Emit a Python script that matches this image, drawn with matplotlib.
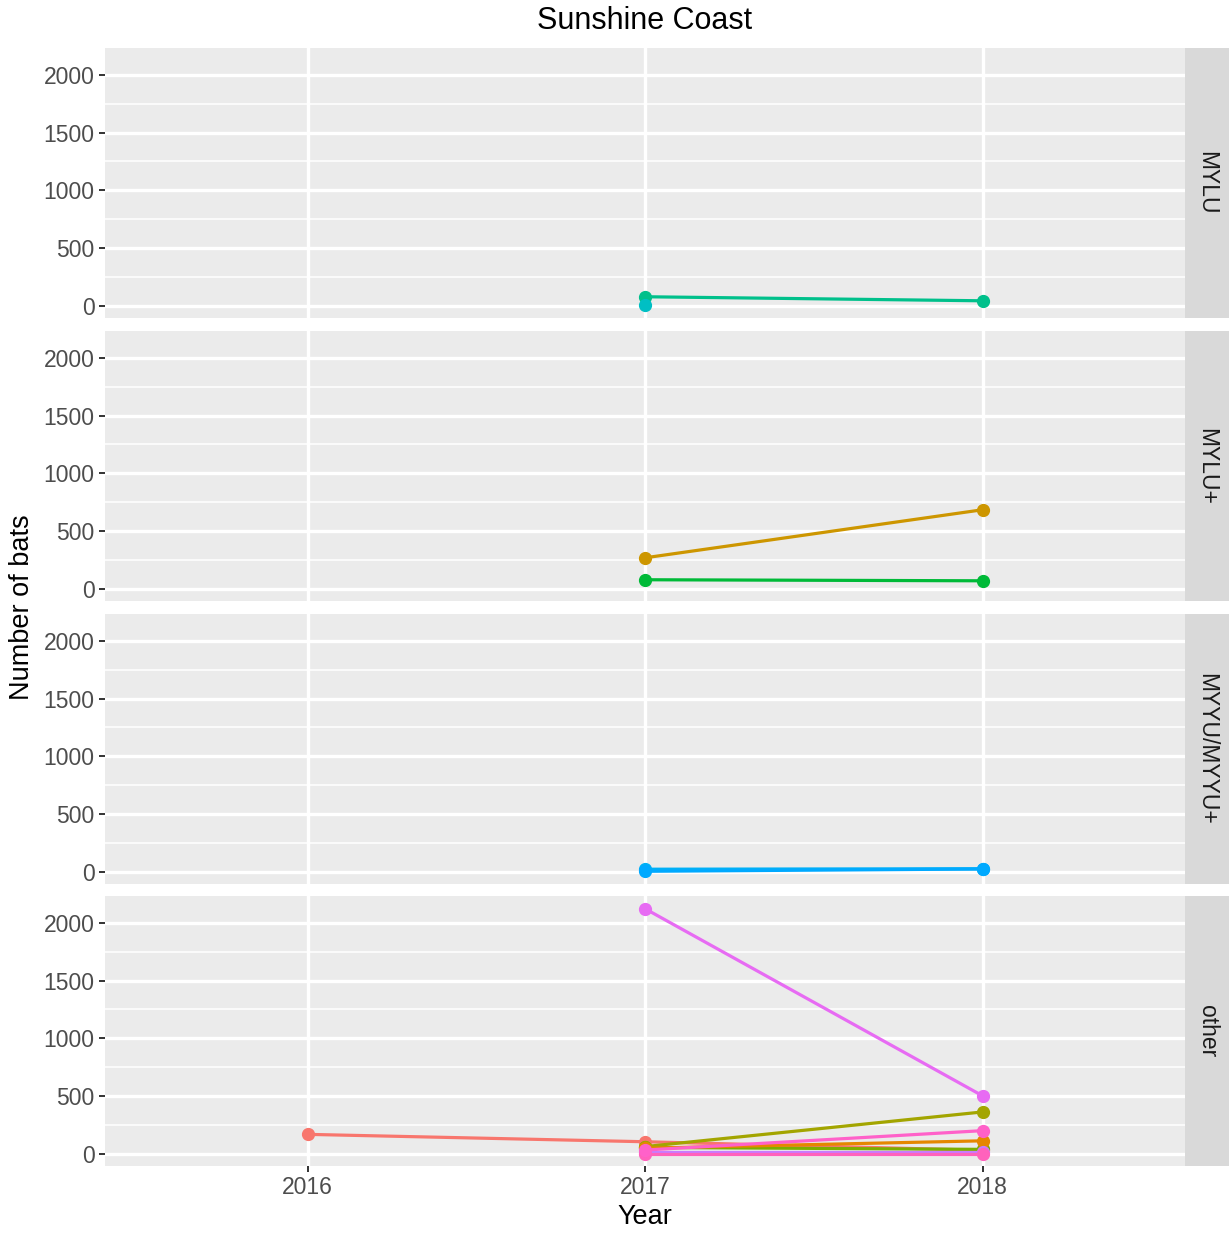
import matplotlib.pyplot as plt
from matplotlib.ticker import MultipleLocator

plt.rcParams["font.family"] = ["Liberation Sans", "DejaVu Sans"]

# panels of the facet grid, top to bottom
panels = ["MYLU", "MYLU+", "MYYU/MYYU+", "other"]

# series: (panel, colour, years, counts)
mylu_a_years = [2017, 2018]
mylu_a_counts = [78, 43]
mylu_b_years = [2017]
mylu_b_counts = [5]

mylup_a_years = [2017, 2018]
mylup_a_counts = [268, 684]
mylup_b_years = [2017, 2018]
mylup_b_counts = [78, 69]

myyu_a_years = [2017, 2018]
myyu_a_counts = [22, 26]
myyu_b_years = [2017, 2018]
myyu_b_counts = [4, 24]

other_salmon_years = [2016, 2017, 2018]
other_salmon_counts = [168, 104, 30]
other_olive_years = [2017, 2018]
other_olive_counts = [62, 362]
other_green_years = [2017, 2018]
other_green_counts = [55, 38]
other_orange_years = [2017, 2018]
other_orange_counts = [48, 112]
other_magenta_years = [2017, 2018]
other_magenta_counts = [2122, 502]
other_pink_years = [2017, 2018]
other_pink_counts = [32, 200]
other_purple_years = [2017, 2018]
other_purple_counts = [12, 12]
other_rose_years = [2017, 2018]
other_rose_counts = [2, 2]

series = [
    ("MYLU", "#00C08B", mylu_a_years, mylu_a_counts),
    ("MYLU", "#00BFC4", mylu_b_years, mylu_b_counts),
    ("MYLU+", "#CD9600", mylup_a_years, mylup_a_counts),
    ("MYLU+", "#00BA38", mylup_b_years, mylup_b_counts),
    ("MYYU/MYYU+", "#00B0F6", myyu_a_years, myyu_a_counts),
    ("MYYU/MYYU+", "#00A9FF", myyu_b_years, myyu_b_counts),
    ("other", "#F8766D", other_salmon_years, other_salmon_counts),
    ("other", "#7CAE00", other_green_years, other_green_counts),
    ("other", "#A3A500", other_olive_years, other_olive_counts),
    ("other", "#E58700", other_orange_years, other_orange_counts),
    ("other", "#C77CFF", other_purple_years, other_purple_counts),
    ("other", "#FF62BC", other_rose_years, other_rose_counts),
    ("other", "#FF61C9", other_pink_years, other_pink_counts),
    ("other", "#E76BF3", other_magenta_years, other_magenta_counts),
]

year_ticks = [2016, 2017, 2018]
count_ticks = [0, 500, 1000, 1500, 2000]

W, H = 1231, 1234
fig = plt.figure(figsize=(W / 100, H / 100), dpi=100)

left, right, strip_r = 105 / W, 1185 / W, 1229 / W
tops = [48, 331, 614, 896]
ph = 270

for i, name in enumerate(panels):
    bottom = 1 - (tops[i] + ph) / H
    ax = fig.add_axes([left, bottom, right - left, ph / H])
    ax.set_facecolor("#EBEBEB")
    for sp in ax.spines.values():
        sp.set_visible(False)
    ax.set_xlim(2015.4, 2018.6)
    ax.set_ylim(-106, 2232)
    ax.set_yticks(count_ticks)
    ax.yaxis.set_minor_locator(MultipleLocator(250))
    ax.set_xticks(year_ticks)
    ax.grid(True, which="major", color="white", linewidth=2.4)
    ax.grid(True, which="minor", axis="y", color="white", linewidth=1.1)
    ax.set_axisbelow(True)
    ax.tick_params(axis="y", which="minor", length=0)
    ax.tick_params(axis="both", which="major", length=4.5, width=1.4,
                   color="#333333", labelcolor="#4D4D4D", labelsize=16.5,
                   pad=3)
    if i < len(panels) - 1:
        ax.tick_params(axis="x", which="major", length=0, labelbottom=False)
    else:
        ax.set_xlabel("Year", fontsize=19.5, color="black", labelpad=3)

    for panel, colour, yrs, vals in series:
        if panel != name:
            continue
        ax.plot(yrs, vals, color=colour, linewidth=2.3, marker="o",
                markersize=8.5, solid_capstyle="round")

    sax = fig.add_axes([right, bottom, strip_r - right, ph / H])
    sax.set_facecolor("#D9D9D9")
    sax.set_xticks([])
    sax.set_yticks([])
    for sp in sax.spines.values():
        sp.set_visible(False)
    sax.text(0.5, 0.5, name, rotation=270, ha="center", va="center",
             fontsize=16.5, color="#1A1A1A", transform=sax.transAxes)

fig.text(left + (right - left) / 2, 1 - 21 / H, "Sunshine Coast",
         ha="center", va="center", fontsize=22)
fig.text(22 / W, 1 - 607 / H, "Number of bats", rotation=90,
         ha="center", va="center", fontsize=19.5)

fig.savefig("out.png", dpi=100, facecolor="white")
